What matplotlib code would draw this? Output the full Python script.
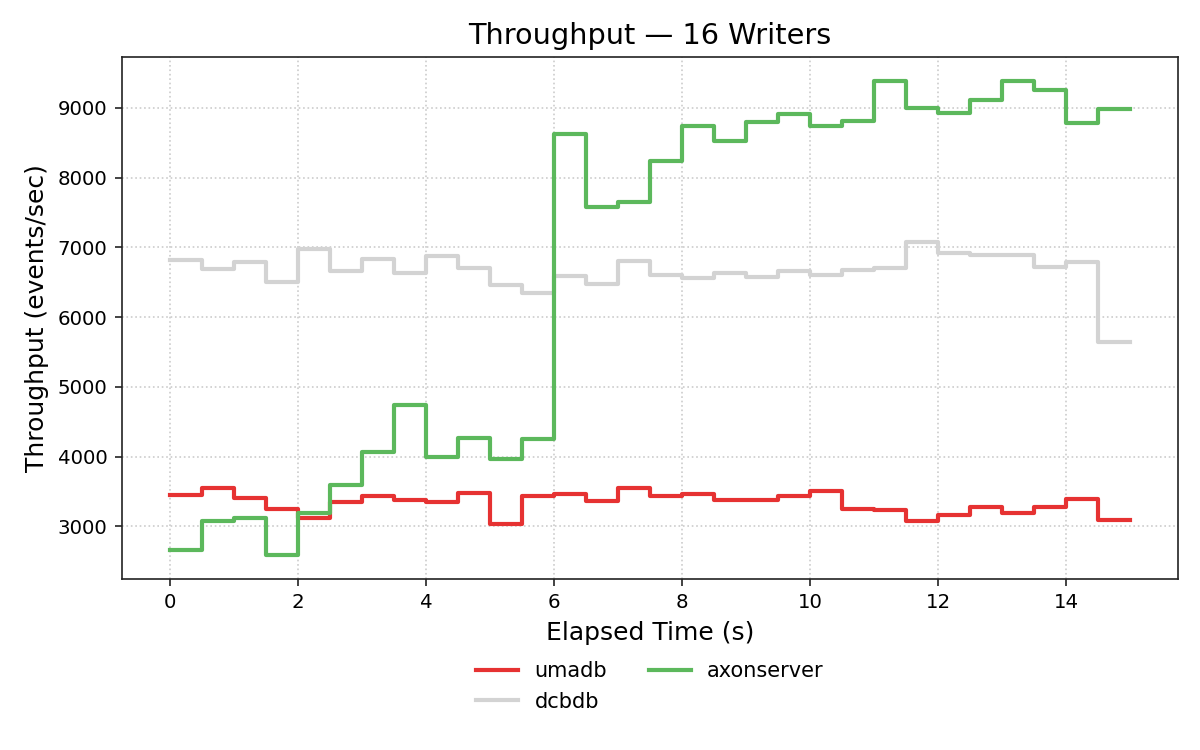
import numpy as np
import matplotlib
matplotlib.use("Agg")
import matplotlib.pyplot as plt

# bin start times (seconds); each value holds until the next start, last until 15 s
time_starts = np.arange(0, 15.01, 0.5)

umadb = [3443, 3548, 3405, 3243, 3124, 3343, 3429, 3376, 3343, 3476,
         3029, 3429, 3471, 3357, 3543, 3429, 3457, 3371, 3371, 3429,
         3514, 3248, 3229, 3071, 3162, 3271, 3186, 3271, 3390, 3086, 3086]

dcbdb = [6818, 6689, 6794, 6507, 6981, 6660, 6833, 6632, 6876, 6703,
         6455, 6344, 6589, 6474, 6806, 6608, 6565, 6636, 6579, 6660,
         6608, 6675, 6703, 7081, 6914, 6895, 6895, 6718, 6789, 5641, 5641]

axonserver = [2667, 3081, 3119, 2590, 3186, 3595, 4071, 4743, 4000, 4267,
              3971, 4248, 8627, 7579, 7646, 8239, 8742, 8531, 8799, 8904,
              8742, 8813, 9388, 9000, 8928, 9115, 9388, 9249, 8789, 8986, 8986]

series_names = ["umadb", "dcbdb", "axonserver"]
series_colors = ["#e63232", "#d3d3d3", "#5cb85c"]

fig = plt.figure(figsize=(8, 5), dpi=150)
ax = fig.add_axes([0.1017, 0.2284, 0.88, 0.6956])

for name, vals, col in zip(series_names, [umadb, dcbdb, axonserver], series_colors):
    ax.step(time_starts, vals, where="post", color=col, linewidth=2, label=name)

ax.set_xlim(-0.75, 15.75)
ax.set_ylim(2250, 9728)
ax.set_xticks([0, 2, 4, 6, 8, 10, 12, 14])
ax.grid(True, linestyle=":", color="#cccccc", linewidth=0.8)
ax.set_axisbelow(True)
for s in ax.spines.values():
    s.set_color("#222222")
ax.tick_params(labelsize=9.5, colors="#222222", labelcolor="black")

ax.set_title("Throughput — 16 Writers", fontsize=13.8)
ax.set_xlabel("Elapsed Time (s)", fontsize=12)
ax.set_ylabel("Throughput (events/sec)", fontsize=12)

ax.legend(loc="upper center", bbox_to_anchor=(0.5, -0.122), ncol=2,
          frameon=False, fontsize=10, columnspacing=2.0)

fig.savefig("out.png", dpi=150)
